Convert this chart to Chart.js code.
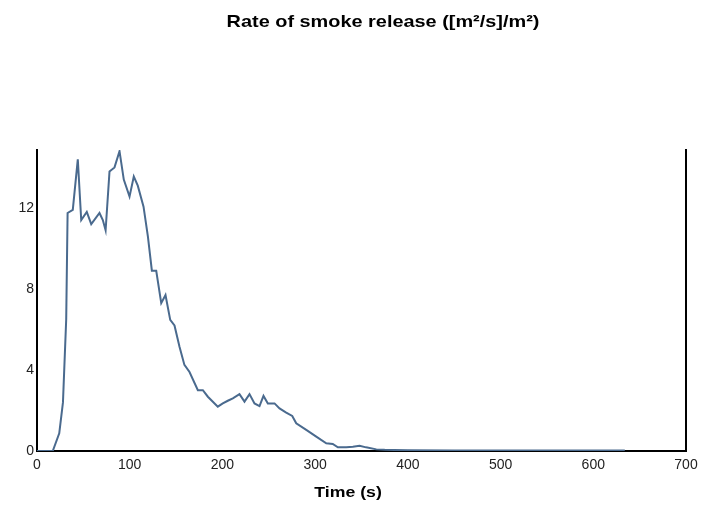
<!DOCTYPE html>
<html>
<head>
<meta charset="utf-8">
<script src="https://cdn.jsdelivr.net/npm/chart.js@4.4.0/dist/chart.umd.min.js"></script>
<style>
  html, body { margin: 0; padding: 0; background: #fff; }
  #wrap { width: 724px; height: 506px; position: relative; }
</style>
</head>
<body>
<div id="wrap"><canvas id="c" width="724" height="506"></canvas></div>
<script>
const chartTitle = "Rate of smoke release ([m²/s]/m²)";
const xAxisTitle = "Time (s)";
const xTickValues = [0, 100, 200, 300, 400, 500, 600, 700];
const yTickValues = [0, 4, 8, 12];

const timeValues = [
  0, 5, 10, 17, 24, 28, 31.5, 33, 38.6, 44, 47.7, 53.7, 58.5, 67.4, 71, 74,
  78.2, 83.6, 89, 93.6, 99.8, 104.4, 108.7, 114.9, 119.6, 123.9, 128.6, 134,
  138.6, 143.7, 148.3, 153.7, 159, 164.5, 173.5, 178.9, 184.3, 195, 200.4,
  205.8, 211.2, 218.4, 223.8, 229.2, 234.6, 240, 244.3, 249, 256.2, 261.6,
  268.8, 275.3, 279.6, 290.4, 301.2, 312, 319, 324.5, 333.5, 340.7, 347.9,
  355, 366, 375, 385, 400, 450, 500, 550, 600, 634
];
const smokeValues = [
  0, 0, 0, 0, 0.87, 2.4, 6.5, 11.75, 11.9, 14.4, 11.4, 11.8, 11.2, 11.75, 11.4, 10.9,
  13.8, 14.0, 14.8, 13.4, 12.56, 13.55, 13.1, 12.06, 10.6, 8.9, 8.9, 7.3,
  7.7, 6.47, 6.2, 5.15, 4.25, 3.9, 3.0, 3.0, 2.68, 2.19, 2.35,
  2.48, 2.6, 2.81, 2.44, 2.81, 2.35, 2.22, 2.72, 2.35, 2.35, 2.1,
  1.9, 1.73, 1.37, 1.04, 0.71, 0.38, 0.35, 0.18, 0.18, 0.21, 0.26,
  0.18, 0.08, 0.06, 0.05, 0.04, 0.03, 0.03, 0.03, 0.03, 0.03
];

function drawStretchedText(ctx, text, x, y, size, sx) {
  ctx.save();
  ctx.font = 'bold ' + size + 'px "Liberation Sans", Arial, sans-serif';
  ctx.fillStyle = '#000';
  ctx.textAlign = 'center';
  ctx.textBaseline = 'middle';
  ctx.translate(x, y);
  ctx.scale(sx, 1);
  ctx.fillText(text, 0, 0);
  ctx.restore();
}

const titlePlugin = {
  id: 'customTitles',
  afterDraw(chart) {
    const ctx = chart.ctx;
    drawStretchedText(ctx, chartTitle, 383, 22, 17, 1.17);
    drawStretchedText(ctx, xAxisTitle, 348, 493, 15, 1.18);
  }
};

const points = timeValues.map((t, i) => ({ x: t, y: smokeValues[i] }));

new Chart(document.getElementById('c'), {
  type: 'line',
  data: {
    datasets: [{
      data: points,
      borderColor: '#4a6a8e',
      borderWidth: 2,
      pointRadius: 0,
      tension: 0,
      fill: false
    }]
  },
  options: {
    responsive: false,
    animation: false,
    layout: { padding: { top: 150, left: 0, right: 38, bottom: 0 } },
    plugins: {
      legend: { display: false },
      tooltip: { enabled: false },
      title: { display: false }
    },
    scales: {
      x: {
        type: 'linear',
        min: 0,
        max: 700,
        grid: { display: false, drawTicks: false },
        border: { display: true, color: '#000', width: 2 },
        afterBuildTicks(scale) { scale.ticks = xTickValues.map(v => ({ value: v })); },
        afterFit(scale) { scale.height = 55; },
        ticks: {
          padding: 6,
          color: '#222',
          font: { family: '"Liberation Sans", Arial, sans-serif', size: 14 },
          maxRotation: 0,
          autoSkip: false
        },
        title: { display: false }
      },
      y: {
        type: 'linear',
        min: 0,
        max: 14.86,
        grid: { display: false, drawTicks: false },
        border: { display: true, color: '#000', width: 2 },
        afterBuildTicks(scale) { scale.ticks = yTickValues.map(v => ({ value: v })); },
        afterFit(scale) { scale.width = 37; },
        ticks: {
          padding: 3,
          color: '#222',
          font: { family: '"Liberation Sans", Arial, sans-serif', size: 14 }
        }
      },
      yRight: {
        type: 'linear',
        position: 'right',
        min: 0,
        max: 14.86,
        grid: { display: false, drawTicks: false },
        border: { display: true, color: '#000', width: 2 },
        ticks: { display: false },
        afterFit(scale) { scale.width = 0; }
      }
    }
  },
  plugins: [titlePlugin]
});
</script>
</body>
</html>
